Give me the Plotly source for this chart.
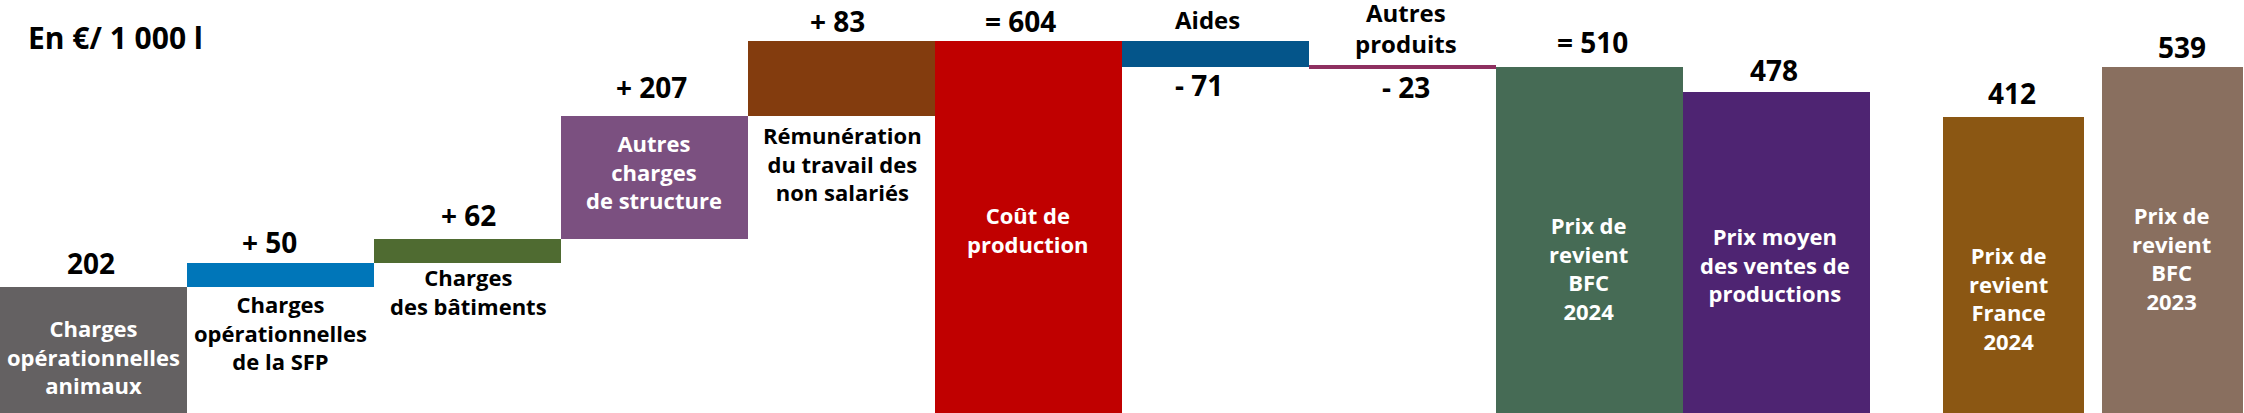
import plotly.graph_objects as go

# ---------------- data ----------------
categories = [
    "Charges<br>opérationnelles<br>animaux",
    "Charges<br>opérationnelles<br>de la SFP",
    "Charges<br>des bâtiments",
    "Autres<br>charges<br>de structure",
    "Rémunération<br>du travail des<br>non salariés",
    "Coût de<br>production",
    "Aides",
    "Autres<br>produits",
    "Prix de<br>revient<br>BFC<br>2024",
    "Prix moyen<br>des ventes de<br>productions",
    "Prix de<br>revient<br>France<br>2024",
    "Prix de<br>revient<br>BFC<br>2023",
]
values = [202, 50, 62, 207, 83, 604, -71, -23, 510, 478, 412, 539]
value_labels = ["202", "+ 50", "+ 62", "+ 207", "+ 83", "= 604",
                "- 71", "- 23", "= 510", "478", "412", "539"]
# bar extents as drawn in the picture (same units, the drawing is not to scale)
drawn_base = [0, 204, 243, 283, 482, 0, 604, 564.5, 0, 0, 0, 0]
drawn_top = [204, 243, 283, 482, 604, 604, 561.3, 559, 562.6, 521, 481, 562]
unit_title = "En €/ 1 000 l"

# ---------------- styles / layout ----------------
colors = ["#646162", "#0076B9", "#4F6B31", "#7B5080", "#833C0E", "#C00000",
          "#04558A", "#8E3060", "#466B55", "#4E2472", "#8B5713", "#896F5F"]
W, H = 2244, 413
PX = 604 / 372.0          # data units per pixel
YMAX = H * PX

# x slots: first ten bars touch each other, last two are narrower
xpos = list(range(10)) + [10.267, 11.118]
widths = [1.0] * 10 + [0.754, 0.754]

heights = [t - b for t, b in zip(drawn_top, drawn_base)]

fig = go.Figure(go.Bar(
    x=xpos, y=heights, base=drawn_base, width=widths,
    marker=dict(color=colors, line=dict(width=0)),
    hoverinfo="skip", showlegend=False,
))

FONT = "Open Sans"

def py(ypx):
    return (H - ypx) * PX

def pxx(xpx):
    return xpx / 187.0 - 0.5

# value labels: (x px, y px center)
val_pos = [(91, 263), (269.5, 242), (468, 215), (651, 87), (837, 21),
           (1020, 21), (1199, 85), (1405.7, 87), (1592, 41.7), (1774, 70),
           (2011.7, 93.3), (2181.7, 46.7)]
for (xp, yp), t in zip(val_pos, value_labels):
    fig.add_annotation(x=pxx(xp), y=py(yp), text=t, showarrow=False,
                       xanchor="center", yanchor="middle", borderpad=0,
                       font=dict(family=FONT, size=28, color="black", weight=700))

# category labels: (x px, y px center, color, size)
cat_pos = [(93.6, 356, "white", 22), (280, 332, "black", 22), (468, 291, "black", 22),
           (654, 171, "white", 22), (842, 163, "black", 22), (1028, 229, "white", 22),
           (1207.5, 19, "black", 24), (1405.7, 28, "black", 24),
           (1588, 268, "white", 22), (1775, 264, "white", 22),
           (2008, 298, "white", 22), (2171, 258, "white", 22)]
for (xp, yp, c, s), t in zip(cat_pos, categories):
    fig.add_annotation(x=pxx(xp), y=py(yp), text=t, showarrow=False,
                       xanchor="center", yanchor="middle", align="center",
                       borderpad=0,
                       font=dict(family=FONT, size=s, color=c, weight=700))

fig.add_annotation(xref="paper", yref="paper", x=27 / W, y=1 - 38 / H,
                   text=unit_title, showarrow=False, xanchor="left", yanchor="middle",
                   borderpad=0,
                   font=dict(family=FONT, size=30, color="black", weight=700))

fig.update_layout(
    width=W, height=H, margin=dict(l=0, r=0, t=0, b=0),
    paper_bgcolor="white", plot_bgcolor="white",
    bargap=0,
    xaxis=dict(range=[-0.5, 11.5], visible=False, fixedrange=True),
    yaxis=dict(range=[0, YMAX], visible=False, fixedrange=True),
)

fig.write_html("out.html", config={"displayModeBar": False})
